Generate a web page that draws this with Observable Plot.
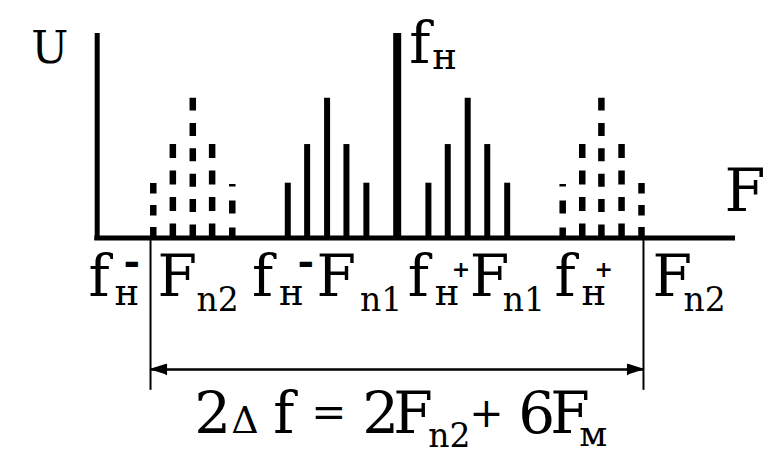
<!DOCTYPE html>
<html><head><meta charset="utf-8">
<script src="https://cdn.jsdelivr.net/npm/d3@7"></script>
<script src="https://cdn.jsdelivr.net/npm/@observablehq/plot@0.6"></script>
<style>html,body{margin:0;padding:0;background:#fff;} svg{display:block;}</style>
</head><body><div id="chart"></div>
<script>
// Frequencies in units of F_M relative to the carrier f_н; amplitudes relative to the carrier.
const carrierFreq = [0];
const carrierAmp = [1];
const innerFreq = [-5.54, -4.56, -3.55, -2.57, -1.56, 1.58, 2.56, 3.57, 4.56, 5.57];
const innerAmp  = [0.268, 0.457, 0.684, 0.457, 0.268, 0.268, 0.457, 0.684, 0.457, 0.268];
const outerFreq = [-12.35, -11.36, -10.35, -9.37, -8.35, 8.38, 9.37, 10.34, 11.36, 12.37];
const outerAmp  = [0.268, 0.457, 0.684, 0.457, 0.262, 0.262, 0.457, 0.684, 0.457, 0.268];
const axisStart = -15.19;   // U axis position
const axisEnd = 17.13;      // end of the F axis
const axisTop = 1;
const bandEdges = [-12.49, 12.47];
const bandCenters = [-3.55, 3.57];

// Texts
const yAxisLabel = "U";
const xAxisLabel = "F";
const carrierLabel = ["f", "н"];
const bandLabels = [
  ["f", "н", "-", "F", "n2"],
  ["f", "н", "-", "F", "n1"],
  ["f", "н", "+", "F", "n1"],
  ["f", "н", "+", "F", "n2"]
];
const formula = ["2", "Δ", "f", "=", "2", "F", "n2", "+", "6", "F", "м"];

// ---- layout (pixels / levels) ----
const edgeDepth = -0.745;
const arrowLevel = -0.643;
const serif = "DejaVu Serif";

const carrier = carrierFreq.map((f, i) => ({f, a: carrierAmp[i]}));
const inner = innerFreq.map((f, i) => ({f, a: innerAmp[i]}));
const outer = outerFreq.map((f, i) => ({f, a: outerAmp[i]}));

function piece(ax, ay, t, dx, dy, size, weight = "normal") {
  return Plot.text([t], {
    x: () => ax, y: () => ay, text: d => d, dx, dy,
    fontSize: size, fontWeight: weight, textAnchor: "start", lineAnchor: "bottom",
    fontFamily: serif, fill: "black"
  });
}

function bandGroup(anchor, texts, off) {
  const signIsPlus = texts[2] === "+";
  return [
    piece(anchor, 0, texts[0], off[0], 57.5, 57),
    piece(anchor, 0, texts[1], off[1], 66.5, 37),
    signIsPlus ? piece(anchor, 0, texts[2], off[2], 39, 22, "bold")
               : piece(anchor, 0, texts[2], off[2], 37, 40, "bold"),
    piece(anchor, 0, texts[3], off[3], 57.5, 57),
    piece(anchor, 0, texts[4], off[4], 72.5, 33)
  ];
}

const headLen = 0.8, headHalf = 0.024;
const heads = [
  {id: 0, f: bandEdges[0], a: arrowLevel},
  {id: 0, f: bandEdges[0] + headLen, a: arrowLevel + headHalf},
  {id: 0, f: bandEdges[0] + headLen, a: arrowLevel - headHalf},
  {id: 1, f: bandEdges[1], a: arrowLevel},
  {id: 1, f: bandEdges[1] - headLen, a: arrowLevel + headHalf},
  {id: 1, f: bandEdges[1] - headLen, a: arrowLevel - headHalf}
];

// formula layout: [dx, dy, size]
const fx = [
  [-203, 64, 58], [-166, 64, 38], [-124, 64, 57], [-86, 58, 42],
  [-35, 64, 58], [-4, 64, 57], [31, 78, 33], [72, 58, 41],
  [121, 64, 58], [153, 64, 57], [182, 77, 36]
];

const dotted = (filter, dash) =>
  Plot.ruleX(outer, {filter, x: "f", y1: 0, y2: "a", stroke: "black", strokeWidth: 6.5, strokeDasharray: dash});

const chart = Plot.plot({
  width: 769, height: 462, margin: 0,
  x: {domain: [-20.086, 18.851], axis: null},
  y: {domain: [-1.0978, 1.1614], axis: null},
  style: {background: "white", fontFamily: serif},
  marks: [
    Plot.ruleX([axisStart], {y1: -0.012, y2: axisTop, stroke: "black", strokeWidth: 5}),
    Plot.ruleY([0], {x1: axisStart - 0.12, x2: axisEnd, stroke: "black", strokeWidth: 5}),
    Plot.ruleX(carrier, {x: "f", y1: 0, y2: "a", stroke: "black", strokeWidth: 8}),
    Plot.ruleX(inner, {x: "f", y1: 0, y2: "a", stroke: "black", strokeWidth: 6}),
    dotted(d => d.a > 0.6, "13,12.4"),
    dotted(d => d.a > 0.4 && d.a < 0.6, "14,12.5"),
    dotted(d => d.a > 0.265 && d.a < 0.4, "10.5,11.5"),
    dotted(d => d.a < 0.265, "10,14,13,14,3"),
    Plot.ruleX(bandEdges, {y1: 0, y2: edgeDepth, stroke: "black", strokeWidth: 2}),
    Plot.ruleY([arrowLevel], {x1: bandEdges[0], x2: bandEdges[1], stroke: "black", strokeWidth: 2.5}),
    Plot.line(heads, {x: "f", y: "a", z: "id", fill: "black", stroke: "black", strokeWidth: 1.5}),
    piece(axisStart, axisTop, yAxisLabel, -66, 29, 44),
    piece(axisEnd, 0, xAxisLabel, -11, -27.5, 59),
    piece(carrierFreq[0], carrierAmp[0], carrierLabel[0], 12, 29, 57),
    piece(carrierFreq[0], carrierAmp[0], carrierLabel[1], 35, 35, 37),
    ...bandGroup(bandEdges[0], bandLabels[0], [-62, -36, -27, 7, 46]),
    ...bandGroup(bandCenters[0], bandLabels[1], [-75, -48, -29.6, -10.6, 33]),
    ...bandGroup(bandCenters[1], bandLabels[2], [-60, -33, -16, 2, 35]),
    ...bandGroup(bandEdges[1], bandLabels[3], [-89, -62, -49, 9, 40]),
    ...formula.map((t, i) => piece(0, arrowLevel, t, fx[i][0], fx[i][1], fx[i][2]))
  ]
});
document.getElementById("chart").appendChild(chart);
</script>
</body></html>
